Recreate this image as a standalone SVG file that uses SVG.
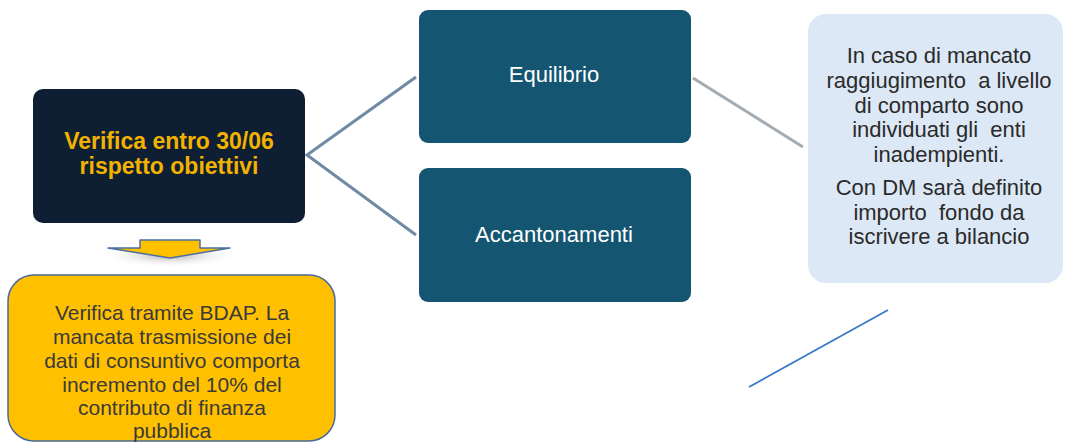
<svg xmlns="http://www.w3.org/2000/svg" width="1065" height="443" viewBox="0 0 1065 443">
<defs>
<style>
.t{font-family:"Liberation Sans",Arial,sans-serif;text-anchor:middle}
.dark{fill:#0e1f33}
.teal{fill:#145671}
.wt{fill:#ffffff;font-size:22px}
.yt{fill:#f2b300;font-size:23px;font-weight:bold}
.bt{fill:#2a2a2a;font-size:22px}
.ot{fill:#3a3a3a;font-size:21px}
.conn{stroke:#6f8aa4;stroke-width:3;fill:none}
</style>
<radialGradient id="sh" cx="0.5" cy="0.4" r="0.5">
<stop offset="0" stop-color="#9a9a9a" stop-opacity="0.8"/>
<stop offset="1" stop-color="#ffffff" stop-opacity="0"/>
</radialGradient>
</defs>
<rect width="1065" height="443" fill="#ffffff"/>
<g id="connectors">
<polyline class="conn" points="416,77 307,155 416,235"/>
<line x1="693" y1="78" x2="803" y2="147" stroke="#a3abb3" stroke-width="3"/>
<line x1="888" y1="310" x2="749" y2="387" stroke="#3a78c8" stroke-width="1.8"/>
</g>
<g id="node-verifica">
<rect class="dark" x="33" y="89" width="272" height="134" rx="10"/>
<text class="t yt" x="169" y="149">Verifica entro 30/06</text>
<text class="t yt" x="169" y="174">rispetto obiettivi</text>
</g>
<g id="arrow-down">
<ellipse cx="170" cy="258" rx="70" ry="12" fill="url(#sh)"/>
<polygon points="140,240 200,240 200,248 230,248 170,258 108,248 140,248" fill="#ffc000" stroke="#4a6fa0" stroke-width="1.5" stroke-linejoin="round"/>
</g>
<g id="node-bdap">
<rect x="8" y="275" width="327" height="166" rx="26" fill="#ffc000" stroke="#4a6a9a" stroke-width="1.5"/>
<text class="t ot" x="172" y="320">Verifica tramite BDAP. La</text>
<text class="t ot" x="172" y="344">mancata trasmissione dei</text>
<text class="t ot" x="172" y="368">dati di consuntivo comporta</text>
<text class="t ot" x="172" y="392">incremento del 10% del</text>
<text class="t ot" x="172" y="415">contributo di finanza</text>
<text class="t ot" x="172" y="438">pubblica</text>
</g>
<g id="node-equilibrio">
<rect class="teal" x="419" y="10" width="272" height="133" rx="9"/>
<text class="t wt" x="554" y="82">Equilibrio</text>
</g>
<g id="node-accantonamenti">
<rect class="teal" x="419" y="168" width="272" height="134" rx="9"/>
<text class="t wt" x="554" y="242">Accantonamenti</text>
</g>
<g id="node-nota">
<rect x="808" y="14" width="255" height="269" rx="18" fill="#dce8f5"/>
<text class="t bt" x="939" y="63">In caso di mancato</text>
<text class="t bt" x="939" y="88" xml:space="preserve">raggiugimento  a livello</text>
<text class="t bt" x="939" y="113">di comparto sono</text>
<text class="t bt" x="939" y="137" xml:space="preserve">individuati gli  enti</text>
<text class="t bt" x="939" y="162">inadempienti.</text>
<text class="t bt" x="939" y="195">Con DM sarà definito</text>
<text class="t bt" x="939" y="220" xml:space="preserve">importo  fondo da</text>
<text class="t bt" x="939" y="244">iscrivere a bilancio</text>
</g>
</svg>
